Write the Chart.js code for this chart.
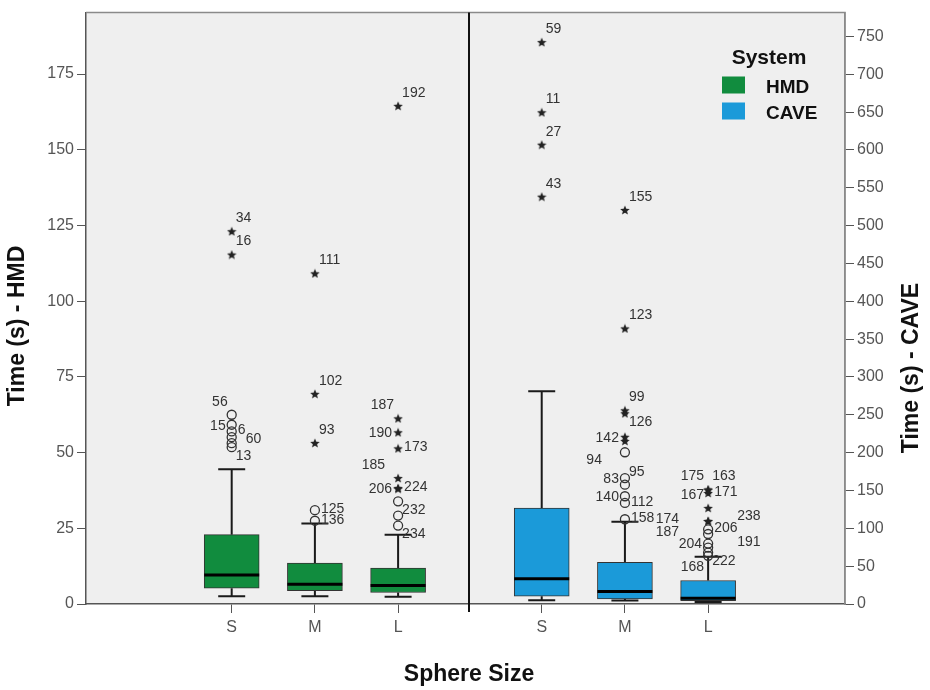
<!DOCTYPE html>
<html>
<head>
<meta charset="utf-8">
<script src="https://cdn.jsdelivr.net/npm/chart.js@4.4.0/dist/chart.umd.min.js"></script>
<style>
  html, body { margin: 0; padding: 0; background: #ffffff; }
  #wrap { width: 930px; height: 690px; }
</style>
</head>
<body>
<div id="wrap"><canvas id="c" width="930" height="690"></canvas></div>
<script>
// ---------------- DATA ----------------
const categories = ['S', 'M', 'L'];
const seriesNames = ['HMD', 'CAVE'];
const hmdTicks = [0, 25, 50, 75, 100, 125, 150, 175];
const caveTicks = [0, 50, 100, 150, 200, 250, 300, 350, 400, 450, 500, 550, 600, 650, 700, 750];

// HMD box statistics (seconds), per category S, M, L
const hmdMin    = [2.6, 2.6, 2.4];
const hmdQ1     = [5.2, 4.4, 3.8];
const hmdMedian = [9.6, 6.5, 6.1];
const hmdQ3     = [22.9, 13.5, 11.9];
const hmdMax    = [44.5, 26.6, 22.9];

// CAVE box statistics (seconds), per category S, M, L
const caveMin    = [5.0, 4.6, 2.5];
const caveQ1     = [10.2, 6.8, 4.5];
const caveMedian = [33.5, 16.4, 7.5];
const caveQ3     = [126.6, 54.9, 31.0];
const caveMax    = [281.0, 108.7, 62.3];

// outliers (circles): [category index, value, case id]
const hmdOutliers = [
  [0, 62.5, '56'], [0, 59.2, '15'], [0, 57.0, '6'], [0, 55.1, '60'], [0, 53.1, ''], [0, 51.8, '13'],
  [1, 31.0, '125'], [1, 27.5, '136'],
  [2, 33.9, '232'], [2, 29.2, ''], [2, 25.9, '234']
];
// extremes (stars)
const hmdExtremes = [
  [0, 123.1, '34'], [0, 115.4, '16'],
  [1, 109.2, '111'], [1, 69.4, '102'], [1, 53.2, '93'],
  [2, 164.5, '192'], [2, 61.3, '187'], [2, 56.7, '190'], [2, 51.4, '173'], [2, 41.6, '185'], [2, 38.3, '206'], [2, 38.1, '224']
];
const caveOutliers = [
  [1, 200.5, '94'], [1, 166.4, '83'], [1, 157.7, '95'], [1, 142.4, '140'], [1, 133.6, '112'], [1, 112.0, '158'],
  [2, 98.7, '206'], [2, 92.5, '187'], [2, 79.8, '204'], [2, 74.5, '191'], [2, 68.0, '222'], [2, 63.6, '168']
];
const caveExtremes = [
  [0, 742.5, '59'], [0, 649.8, '11'], [0, 607.0, '27'], [0, 538.3, '43'],
  [1, 520.7, '155'], [1, 364.2, '123'], [1, 256.0, '99'], [1, 252.0, '126'], [1, 221.0, '142'], [1, 215.5, ''],
  [2, 151.2, '175'], [2, 151.2, '163'], [2, 146.7, '171'], [2, 127.0, '167'], [2, 109.6, '174'], [2, 109.6, '238']
];

// ---------------- LAYOUT / STYLE (kept apart from the data) ----------------
const hmdOutlierSides  = ['ul','l','r','rf','','dr','r','r','dr','','dr'];
const hmdExtremeSides  = ['ur','ur','ur','ur','ur','ur','ul','l','r','ulf','l','r'];
const caveOutlierSides = ['dll','l','ur','l','r','r','r','ll','l','rr','dr','dl'];
const caveExtremeSides = ['ur','ur','ur','ur','ur','ur','ur','dr','l','','ul','ur','r','ul','ll','rr'];
const sideOffsets = {
  ur: [4, -13, 'left'], r: [6, -1, 'left'], rf: [14, 2, 'left'], dr: [4, 9, 'left'],
  ul: [-4, -13, 'right'], ulf: [-13, -13, 'right'], l: [-6, 1, 'right'], dl: [-4, 11, 'right'],
  dll: [-23, 8, 'right'], rr: [29, -5, 'left'], ll: [-29, -2, 'right']
};

const FONT = "'Liberation Sans', Arial, Helvetica, sans-serif";
const GREEN = '#118c3e';
const BLUE = '#1b9ad9';
const PLOT_BG = '#efefef';
const BOX_W = 55;
const CAP_W = 27;

function makeStar(size, color) {
  const c = document.createElement('canvas');
  c.width = size; c.height = size;
  const g = c.getContext('2d');
  g.fillStyle = color;
  g.beginPath();
  const cx = size / 2, cy = size / 2 + 0.5, R = size / 2, r = R * 0.45;
  for (let k = 0; k < 10; k++) {
    const a = -Math.PI / 2 + k * Math.PI / 5;
    const rad = (k % 2) ? r : R;
    g.lineTo(cx + rad * Math.cos(a), cy + rad * Math.sin(a));
  }
  g.closePath();
  g.fill();
  return c;
}
const starImg = makeStar(10, '#222222');

const boxSeries = [
  { x: 'x', y: 'y', min: hmdMin, q1: hmdQ1, med: hmdMedian, q3: hmdQ3, max: hmdMax },
  { x: 'x2', y: 'y2', min: caveMin, q1: caveQ1, med: caveMedian, q3: caveQ3, max: caveMax }
];
const labelSets = [
  { ds: 2, list: hmdOutliers, sides: hmdOutlierSides },
  { ds: 3, list: hmdExtremes, sides: hmdExtremeSides },
  { ds: 4, list: caveOutliers, sides: caveOutlierSides },
  { ds: 5, list: caveExtremes, sides: caveExtremeSides }
];

const boxPlugin = {
  id: 'boxplotParts',
  beforeDraw(chart) {
    const { ctx, chartArea: a } = chart;
    ctx.save();
    ctx.fillStyle = '#ffffff';
    ctx.fillRect(0, 0, chart.width, chart.height);
    ctx.fillStyle = PLOT_BG;
    ctx.fillRect(a.left, a.top, a.right - a.left, a.bottom - a.top);
    ctx.restore();
  },
  beforeDatasetsDraw(chart) {
    const ctx = chart.ctx;
    ctx.save();
    ctx.strokeStyle = '#1a1a1a';
    ctx.lineWidth = 2;
    boxSeries.forEach(s => {
      const xs = chart.scales[s.x], ys = chart.scales[s.y];
      categories.forEach((c, i) => {
        const x = xs.getPixelForValue(i);
        const yMax = ys.getPixelForValue(s.max[i]);
        const yQ3 = ys.getPixelForValue(s.q3[i]);
        const yQ1 = ys.getPixelForValue(s.q1[i]);
        const yMin = ys.getPixelForValue(s.min[i]);
        ctx.beginPath();
        ctx.moveTo(x, yQ3); ctx.lineTo(x, yMax);
        ctx.moveTo(x - CAP_W / 2, yMax); ctx.lineTo(x + CAP_W / 2, yMax);
        ctx.moveTo(x, yQ1); ctx.lineTo(x, yMin);
        ctx.moveTo(x - CAP_W / 2, yMin); ctx.lineTo(x + CAP_W / 2, yMin);
        ctx.stroke();
      });
    });
    ctx.restore();
  },
  afterDatasetsDraw(chart) {
    const ctx = chart.ctx;
    ctx.save();
    // medians
    ctx.strokeStyle = '#000000';
    ctx.lineWidth = 3;
    boxSeries.forEach(s => {
      const xs = chart.scales[s.x], ys = chart.scales[s.y];
      categories.forEach((c, i) => {
        const x = xs.getPixelForValue(i);
        const y = ys.getPixelForValue(s.med[i]);
        ctx.beginPath();
        ctx.moveTo(x - BOX_W / 2, y); ctx.lineTo(x + BOX_W / 2, y);
        ctx.stroke();
      });
    });
    // outlier case labels
    ctx.fillStyle = '#333333';
    ctx.font = '14px ' + FONT;
    ctx.textBaseline = 'middle';
    labelSets.forEach(set => {
      const meta = chart.getDatasetMeta(set.ds);
      set.list.forEach((o, j) => {
        const side = set.sides[j];
        if (!o[2] || !side) return;
        const off = sideOffsets[side];
        const el = meta.data[j];
        ctx.textAlign = off[2];
        ctx.fillText(o[2], el.x + off[0], el.y + off[1]);
      });
    });
    ctx.restore();
  },
  afterDraw(chart) {
    const { ctx, chartArea: a } = chart;
    ctx.save();
    // frame top / right
    ctx.strokeStyle = '#8a8a8a';
    ctx.lineWidth = 1.5;
    ctx.beginPath();
    ctx.moveTo(a.left, a.top); ctx.lineTo(a.right, a.top); ctx.lineTo(a.right, a.bottom);
    ctx.stroke();
    // panel divider
    const dx = Math.round(chart.scales.x2.left);
    ctx.strokeStyle = '#111111';
    ctx.lineWidth = 2;
    ctx.beginPath();
    ctx.moveTo(dx, a.top); ctx.lineTo(dx, a.bottom + 8);
    ctx.stroke();

    // axis titles
    ctx.fillStyle = '#111111';
    ctx.font = 'bold 23px ' + FONT;
    ctx.textAlign = 'center';
    ctx.textBaseline = 'alphabetic';
    ctx.fillText('Sphere Size', 469, 681);

    ctx.textBaseline = 'middle';
    ctx.save();
    ctx.translate(18, 326);
    ctx.rotate(-Math.PI / 2);
    ctx.fillText('Time (s) - HMD', 0, 0);
    ctx.restore();
    ctx.save();
    ctx.translate(912, 368);
    ctx.rotate(-Math.PI / 2);
    ctx.fillText('Time (s) - CAVE', 0, 0);
    ctx.restore();

    // legend
    ctx.textBaseline = 'alphabetic';
    ctx.font = 'bold 21px ' + FONT;
    ctx.textAlign = 'center';
    ctx.fillText('System', 769, 64);
    const colors = [GREEN, BLUE];
    ctx.font = 'bold 19px ' + FONT;
    ctx.textAlign = 'left';
    seriesNames.forEach((n, i) => {
      const top = 76.5 + i * 26;
      ctx.fillStyle = colors[i];
      ctx.fillRect(722, top, 23, 17);
      ctx.fillStyle = '#111111';
      ctx.fillText(n, 766, top + 16.5);
    });
    ctx.restore();
  }
};

function xAxis(min, max, weight) {
  return {
    type: 'linear', position: 'bottom', stack: 'panels', stackWeight: weight,
    min: min, max: max, offset: false,
    afterBuildTicks: s => { s.ticks = categories.map((c, i) => ({ value: i })); },
    afterFit: s => { s.height = 86; },
    ticks: { callback: v => categories[v], color: '#555555', font: { family: FONT, size: 16 }, padding: 5, maxRotation: 0, autoSkip: false },
    grid: { display: true, offset: false, drawOnChartArea: false, drawTicks: true, tickLength: 9, color: '#555555', lineWidth: 1 },
    border: { display: true, color: '#555555', width: 1.5 }
  };
}
function yAxis(pos, max, tickList, width) {
  return {
    type: 'linear', position: pos, min: 0, max: max,
    afterBuildTicks: s => { s.ticks = tickList.map(v => ({ value: v })); },
    afterFit: s => { s.width = width; },
    ticks: { color: '#555555', font: { family: FONT, size: 16 }, padding: 3 },
    grid: { display: true, offset: false, drawOnChartArea: false, drawTicks: true, tickLength: 9, color: '#555555', lineWidth: 1 },
    border: { display: true, color: pos === 'left' ? '#555555' : '#8a8a8a', width: 1.5 },
    title: { display: false }
  };
}

const ctx = document.getElementById('c').getContext('2d');
new Chart(ctx, {
  type: 'bar',
  data: {
    datasets: [
      {
        label: 'HMD', type: 'bar', xAxisID: 'x', yAxisID: 'y',
        data: categories.map((c, i) => ({ x: i, y: [hmdQ1[i], hmdQ3[i]] })),
        backgroundColor: GREEN, borderColor: '#333333', borderWidth: 1, borderSkipped: false,
        barThickness: BOX_W, grouped: false
      },
      {
        label: 'CAVE', type: 'bar', xAxisID: 'x2', yAxisID: 'y2',
        data: categories.map((c, i) => ({ x: i, y: [caveQ1[i], caveQ3[i]] })),
        backgroundColor: BLUE, borderColor: '#333333', borderWidth: 1, borderSkipped: false,
        barThickness: BOX_W, grouped: false
      },
      {
        label: 'HMD outliers', type: 'scatter', xAxisID: 'x', yAxisID: 'y',
        data: hmdOutliers.map(o => ({ x: o[0], y: o[1] })),
        pointStyle: 'circle', radius: 4.5, borderWidth: 1.3, borderColor: '#333333', backgroundColor: 'rgba(0,0,0,0)'
      },
      {
        label: 'HMD extremes', type: 'scatter', xAxisID: 'x', yAxisID: 'y',
        data: hmdExtremes.map(o => ({ x: o[0], y: o[1] })),
        pointStyle: starImg, radius: 5
      },
      {
        label: 'CAVE outliers', type: 'scatter', xAxisID: 'x2', yAxisID: 'y2',
        data: caveOutliers.map(o => ({ x: o[0], y: o[1] })),
        pointStyle: 'circle', radius: 4.5, borderWidth: 1.3, borderColor: '#333333', backgroundColor: 'rgba(0,0,0,0)'
      },
      {
        label: 'CAVE extremes', type: 'scatter', xAxisID: 'x2', yAxisID: 'y2',
        data: caveExtremes.map(o => ({ x: o[0], y: o[1] })),
        pointStyle: starImg, radius: 5
      }
    ]
  },
  options: {
    responsive: false,
    animation: false,
    events: [],
    devicePixelRatio: 1,
    layout: { padding: { top: 8, left: 0, right: 0, bottom: 0 } },
    plugins: { legend: { display: false }, tooltip: { enabled: false }, title: { display: false } },
    scales: {
      x: xAxis(-1.751, 2.852, 4.603),
      x2: xAxis(-0.874, 3.645, 4.519),
      y: yAxis('left', 195.3, hmdTicks, 86),
      y2: yAxis('right', 781.5, caveTicks, 85)
    }
  },
  plugins: [boxPlugin]
});
</script>
</body>
</html>
